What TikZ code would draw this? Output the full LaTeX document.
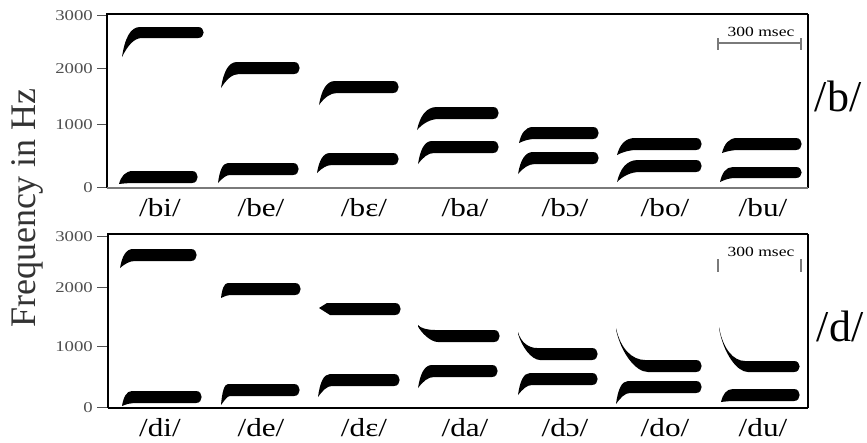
\documentclass[tikz,border=0pt]{standalone}
\usepackage{fontspec}
\setmainfont{Liberation Serif}
\newfontfamily\lblfont[FakeStretch=1.2]{Liberation Serif}
\newfontfamily\tkfont[FakeStretch=1.25]{Liberation Serif}
\definecolor{tickgray}{HTML}{505050}
\definecolor{bargray}{HTML}{7A7A7A}
\definecolor{axgray}{HTML}{333333}
% formant with rising transition: x0 y0 x1 ytop ybot x2
\newcommand\frise[6]{%
 \pgfmathsetmacro\fdx{#3-#1}\pgfmathsetmacro\fdy{#2-#4}\pgfmathsetmacro\fdyb{#2-#5}%
 \fill (#1,#2) .. controls ({#1+0.15*\fdx},{#2-0.6*\fdy}) and ({#1+0.45*\fdx},#4) .. (#3,#4)
  -- ({#6-6},#4) .. controls ({#6+1.5},#4) and ({#6+1.5},#5) .. ({#6-6},#5)
  -- ({#3+2},#5) .. controls ({#1+0.5*\fdx+3},#5) and ({#1+0.15*\fdx+3},{#2-0.6*\fdyb}) .. (#1,#2) -- cycle;}
% formant with falling transition
\newcommand\ffall[6]{%
 \pgfmathsetmacro\fdx{#3-#1}\pgfmathsetmacro\fdy{#4-#2}\pgfmathsetmacro\fdyb{#5-#2}%
 \fill (#1,#2) .. controls ({#1+0.15*\fdx},{#2+0.64*\fdy}) and ({#1+0.55*\fdx},#4) .. (#3,#4)
  -- ({#6-6},#4) .. controls ({#6+1.5},#4) and ({#6+1.5},#5) .. ({#6-6},#5)
  -- ({#3+3},#5) .. controls ({#1+0.6*\fdx+2},#5) and ({#1+0.15*\fdx+0.5},{#2+0.64*\fdy+4}) .. (#1,{#2+1.5}) -- cycle;}
% formant with pointed (flat) start
\newcommand\fpoint[6]{%
 \fill (#1,#2) -- (#3,#4)
  -- ({#6-6},#4) .. controls ({#6+1.5},#4) and ({#6+1.5},#5) .. ({#6-6},#5)
  -- ({#3+3},#5) -- cycle;}
\tikzset{
  boxline/.style={line width=2pt, black},
  thinbox/.style={line width=1.2pt, black},
  tickline/.style={line width=0.8pt, tickgray},
  ticklbl/.style={anchor=base east, inner sep=0pt, text=tickgray, font=\tkfont\fontsize{15}{15}\selectfont},
  syl/.style={anchor=base, inner sep=0pt, font=\lblfont\fontsize{26}{26}\selectfont},
  cons/.style={anchor=center, inner sep=0pt, font=\fontsize{44}{44}\selectfont},
  msec/.style={anchor=center, inner sep=0pt, font=\tkfont\fontsize{14}{14}\selectfont},
  sbar/.style={line width=1.2pt, bargray}
}
\begin{document}
\begin{tikzpicture}[x=1pt,y=-1pt]
\useasboundingbox (0,0) rectangle (867,442);
\fill[white] (0,0) rectangle (867,442);

% ---------- top panel box ----------
\coordinate (tTL) at (107,14); \coordinate (tTR) at (808,14);
\coordinate (tBL) at (107,188); \coordinate (tBR) at (808,188);
\draw[boxline] (tBL) -- (tTL) -- (tTR);
\draw[thinbox] (tTR) -- (tBR);
\draw[line width=1.4pt, bargray] (tBL) -- (tBR);

% ---------- bottom panel box ----------
\coordinate (bTL) at (108,234); \coordinate (bTR) at (808,234);
\coordinate (bBL) at (108,408); \coordinate (bBR) at (808,408);
\draw[boxline] (bBL) -- (bTL) -- (bTR);
\draw[thinbox] (bTR) -- (bBR);
\draw[boxline] (bBL) -- (bBR);

% ---------- ticks and tick labels ----------
\foreach \v/\y/\n in {3000/15/a,2000/68/b,1000/124/c,0/187/d}{
  \coordinate (tk\n1) at (97,\y); \coordinate (tk\n2) at (106,\y);
  \draw[tickline] (tk\n1) -- (tk\n2);
  \node[ticklbl] (tl\n) at (93,\y+5) {\v};
}
\foreach \v/\y/\n in {3000/236/a,2000/287/b,1000/346/c,0/407/d}{
  \coordinate (bk\n1) at (97,\y); \coordinate (bk\n2) at (107,\y);
  \draw[tickline] (bk\n1) -- (bk\n2);
  \node[ticklbl] (bl\n) at (93,\y+5) {\v};
}

% ---------- axis title ----------
\node[rotate=90, inner sep=0pt, text=axgray, font=\fontsize{36}{36}\selectfont] (ylab) at (27,208) {Frequency in Hz};

% ---------- consonant labels ----------
\node[cons] (lb) at (838,96) {/b/};
\node[cons] (ld) at (840,326) {/d/};

% ---------- scale bars ----------
\node[msec] (ms1) at (761,32) {300 msec};
\coordinate (s1L) at (718,43); \coordinate (s1R) at (801,43);
\coordinate (s1La) at (718,38); \coordinate (s1Lb) at (718,50);
\coordinate (s1Ra) at (801,38); \coordinate (s1Rb) at (801,50);
\draw[sbar] (s1L) -- (s1R);
\draw[sbar] (s1La) -- (s1Lb);
\draw[sbar] (s1Ra) -- (s1Rb);

\node[msec] (ms2) at (761,252) {300 msec};
\coordinate (s2La) at (718,259); \coordinate (s2Lb) at (718,272);
\coordinate (s2Ra) at (801,259); \coordinate (s2Rb) at (801,272);
\draw[sbar] (s2La) -- (s2Lb);
\draw[sbar] (s2Ra) -- (s2Rb);

% ---------- top panel formants ----------
\frise{122}{57}{140}{27}{38}{204}
\frise{119}{184}{133}{171}{183}{198}
\frise{221}{88}{237}{62}{74}{300}
\frise{218}{183}{228}{163}{175}{299}
\frise{319}{105}{335}{81}{93}{399}
\frise{317}{173}{330}{153}{165}{399}
\frise{417}{130}{437}{107}{119}{499}
\frise{418}{164}{432}{141}{153}{499}
\frise{519}{143}{533}{127}{139}{599}
\frise{518}{174}{533}{152}{164}{599}
\frise{617}{155}{635}{138}{150}{702}
\frise{617}{182}{638}{160}{172}{702}
\frise{722}{153}{737}{138}{150}{802}
\frise{720}{182}{733}{167}{178}{802}

% ---------- bottom panel formants ----------
\frise{120}{268}{133}{249}{261}{197}
\frise{122}{406}{132}{391}{403}{202}
\frise{221}{298}{228}{283}{295}{301}
\frise{221}{405}{228}{384}{396}{300}
\fpoint{319}{308}{327}{303}{315}{401}
\frise{318}{397}{330}{374}{386}{400}
\ffall{418}{325}{435}{330}{342}{500}
\frise{418}{388}{432}{365}{377}{498}
\ffall{518}{332}{537}{348}{360}{598}
\frise{518}{395}{530}{373}{385}{598}
\ffall{616}{328}{645}{360}{372}{702}
\frise{616}{404}{628}{381}{393}{702}
\ffall{719}{327}{745}{361}{372}{800}
\frise{721}{402}{733}{389}{401}{800}

% ---------- syllable labels ----------
\foreach \t/\x/\n in {bi/160/1,be/261/2,bɛ/364/3,ba/465/4,bɔ/565/5,bo/665/6,bu/763/7}{
  \node[syl] (ts\n) at (\x,216) {/\t/};
}
\foreach \t/\x/\n in {di/160/1,de/261/2,dɛ/364/3,da/465/4,dɔ/565/5,do/665/6,du/763/7}{
  \node[syl] (bs\n) at (\x,436) {/\t/};
}
\end{tikzpicture}
\end{document}
